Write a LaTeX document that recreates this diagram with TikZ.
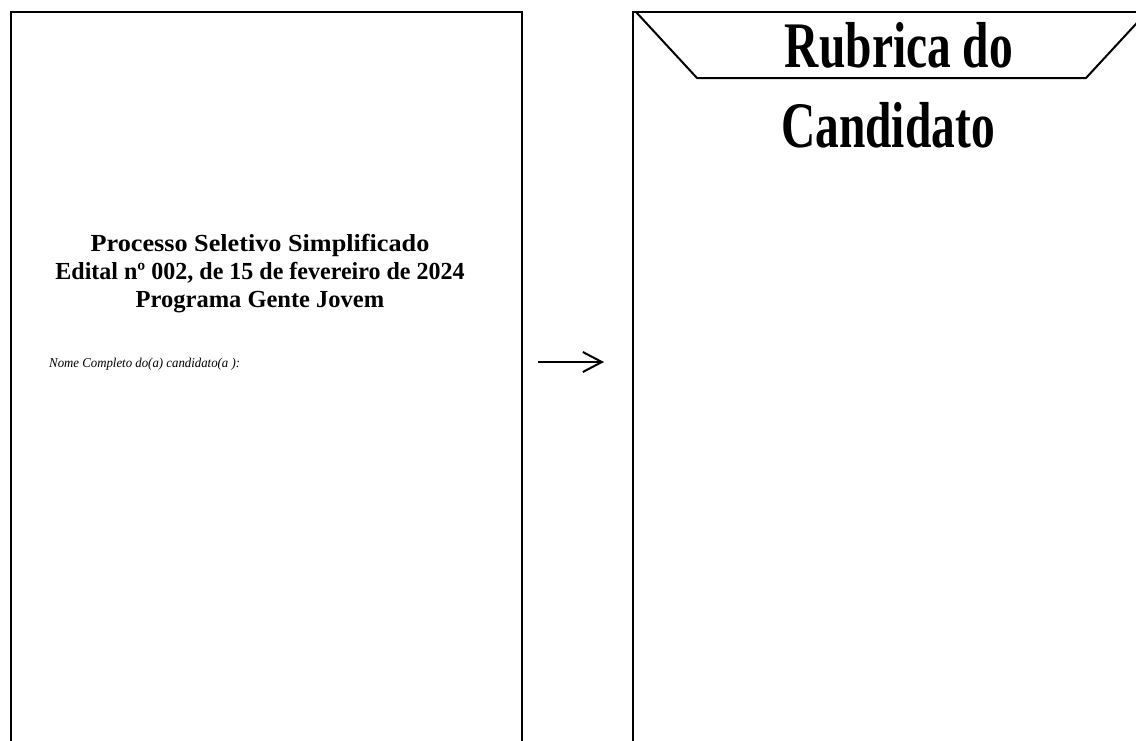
\documentclass[tikz,border=0pt]{standalone}
\usepackage{fontspec}
\setmainfont{Liberation Serif}
\usetikzlibrary{positioning}
\usetikzlibrary{arrows.meta}

\begin{document}
\begin{tikzpicture}[x=1pt,y=-1pt,line width=2.4pt,
	titulo/.style={font=\bfseries\fontsize{24.5}{28}\selectfont,anchor=base,inner sep=0pt},
	rubrica/.style={font=\bfseries\fontsize{65}{78}\selectfont,anchor=base,inner sep=0pt}]
	\useasboundingbox (0,0) rectangle (1136,740);
	\clip (0,0) rectangle (1136,740);

		\draw (11,745) node [shape=coordinate](L1){} -- ++(0,-733) node [shape=coordinate,name=L2]{}
			-- ++(511,0) node [shape=coordinate,name=L3]{} -- ++(0,733) node [shape=coordinate,name=L4]{};
		\draw (633,745) node [shape=coordinate](R1){} -- ++(0,-733) node [shape=coordinate,name=R2]{}
			-- ++(520,0) node [shape=coordinate,name=R3]{};
		\draw[line width=2pt] (636,12) node [shape=coordinate](F0){} -- ++(61,66) node [shape=coordinate,name=F1]{}
			-- ++(389,0) node [shape=coordinate,name=F2]{} -- ++(61,-66) node [shape=coordinate,name=F3]{};

		\node[titulo] (T1) at (260,251) {\scalebox{1.07}[1]{Processo Seletivo Simplificado}};
		\node[titulo] (T2) at ([yshift=-28pt]T1.base) {\scalebox{0.98}[1]{Edital nº 002, de 15 de fevereiro de 2024}};
		\node[titulo] (T3) at ([yshift=-28pt]T2.base) {Programa Gente Jovem};
		\node[anchor=base west,inner sep=0pt,font=\itshape\fontsize{13.5}{15}\selectfont] (C1) at (48,367) {\scalebox{0.95}[1]{Nome Completo do(a) candidato(a ):}};

		\node[rubrica] (N1) at (899,67) {\scalebox{0.73}[1]{Rubrica do}};
		\node[rubrica] (N2) at (888,147) {\scalebox{0.73}[1]{Candidato}};

		\coordinate (A1) at (538,362);
		\coordinate (A2) at (604,362);
		\draw[line width=2pt,-{Straight Barb[length=19pt,width=20pt]}] (A1) -- (A2);
	\end{tikzpicture}
\end{document}
